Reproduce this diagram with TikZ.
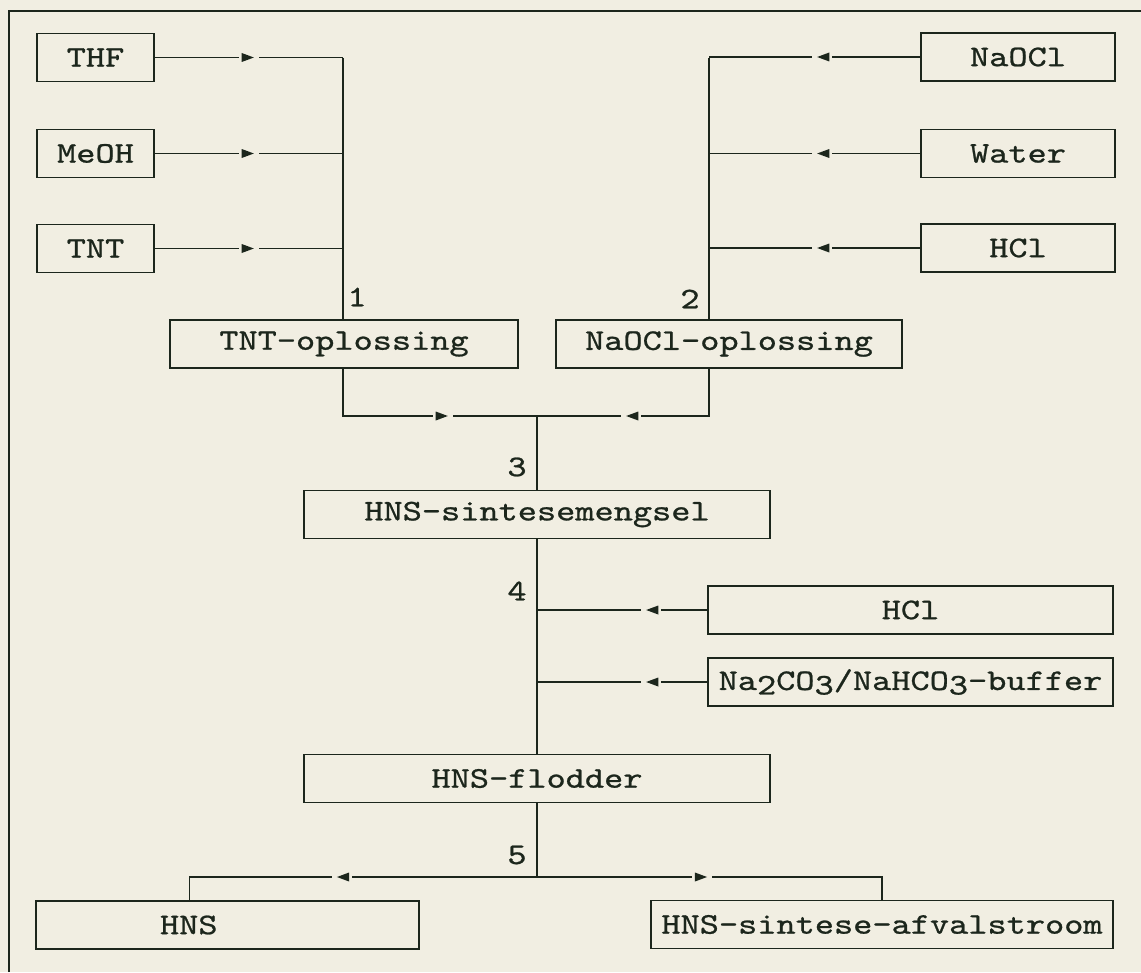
\documentclass[tikz,border=0pt]{standalone}
\usepackage{fontspec}
\newfontfamily\typefont{lmmono10-regular.otf}[FakeStretch=1.22,FakeBold=0.8]
\usetikzlibrary{decorations.markings}
\definecolor{paper}{RGB}{241,238,226}
\definecolor{ink}{RGB}{28,38,28}
\newcommand{\lowd}[1]{\raisebox{-0.35ex}{#1}}
\tikzset{
  box/.style={rectangle,draw=ink,line width=1.1pt,inner sep=0pt,minimum height=1.2cm,text=ink},
  num/.style={text=ink,inner sep=0pt},
  arr/.style={postaction={decorate},decoration={markings,mark=at position #1 with {\fill[paper] (-10.5pt,-3pt) rectangle (3.6pt,3pt); \fill[ink] (0,0) -- (-8.6pt,3.2pt) -- (-8.6pt,-3.2pt) -- cycle;}}}
}

\begin{document}
\begin{tikzpicture}[x=0.025cm,y=-0.025cm,line width=1.1pt,color=ink,font=\typefont\fontsize{21.3}{25}\selectfont]
\fill[paper] (0,0) rectangle (1141,972);
\useasboundingbox (0,0) rectangle (1141,972);
\draw[line width=1.2pt] (9,972) -- (9,11) -- (1141,11);
%Feed nodes
\node at (95.5,57.5) [box,minimum width=2.925cm] (THF) {THF};
\node at (95.5,153.5) [box,minimum width=2.925cm] (MeOH) {MeOH};
\node at (95.5,248.5) [box,minimum width=2.925cm] (TNT) {TNT};
\node at (1018,57) [box,minimum width=4.85cm] (NaOCl) {NaOCl};
\node at (1018,153.5) [box,minimum width=4.85cm] (Water) {Water};
\node at (1018,248) [box,minimum width=4.85cm] (HCla) {HCl};
%Process nodes
\node at (344,344) [box,minimum width=8.7cm] (TNTopl) {TNT-oplossing};
\node at (729,344) [box,minimum width=8.65cm] (NaOClopl) {NaOCl-oplossing};
\node at (537,514.5) [box,minimum width=11.65cm] (sintese) {HNS-sintesemengsel};
\node at (910.5,610) [box,minimum width=10.125cm] (HClb) {HCl};
\node at (910.5,682) [box,minimum width=10.125cm] (buffer) {Na\lowd{2}CO\lowd{3}/NaHCO\lowd{3}-buffer};
\node at (537,778.5) [box,minimum width=11.65cm] (flodder) {HNS-flodder};
\node at (227.5,925) [box,text width=9.575cm,align=left] (HNS) {\hspace*{3.1cm}HNS};
\node at (882,924.5) [box,minimum width=11.55cm] (afval) {HNS-sintese-afvalstroom};
%Stream numbers
\node at (357,297) [num] (n1) {1};
\node at (690,299) [num] (n2) {2};
\node at (517,467) [num] (n3) {3};
\node at (517,591) [num] (n4) {4};
\node at (517,855) [num] (n5) {5};
%Line corners
\coordinate (busL) at (343,58);
\coordinate (busR) at (709,58);
\coordinate (mix) at (537,416);
\coordinate (split) at (537,877);
%Connections
\draw[arr=2.475cm] (THF.east) -- (THF.east -| busL);
\draw[arr=2.475cm] (MeOH.east) -- (MeOH.east -| busL);
\draw[arr=2.475cm] (TNT.east) -- (TNT.east -| busL);
\draw (busL) -- (busL |- TNTopl.north);
\draw[arr=2.575cm] (NaOCl.west) -- (NaOCl.west -| busR);
\draw[arr=2.575cm] (Water.west) -- (Water.west -| busR);
\draw[arr=2.575cm] (HCla.west) -- (HCla.west -| busR);
\draw (busR) -- (busR |- NaOClopl.north);
\draw[arr=3.8cm] (busL |- TNTopl.south) |- (mix);
\draw[arr=3.25cm] (busR |- NaOClopl.south) |- (mix);
\draw (mix) -- (sintese.north);
\draw (sintese.south) -- (flodder.north);
\draw[arr=1.525cm] (HClb.west) -- (HClb.west -| mix);
\draw[arr=1.525cm] (buffer.west) -- (buffer.west -| mix);
\draw (flodder.south) -- (split);
\draw[arr=5cm] (split) -| ([xshift=-0.95cm]HNS.north);
\draw[arr=4.25cm] (split) -| (afval.north);

\end{tikzpicture}
\end{document}
